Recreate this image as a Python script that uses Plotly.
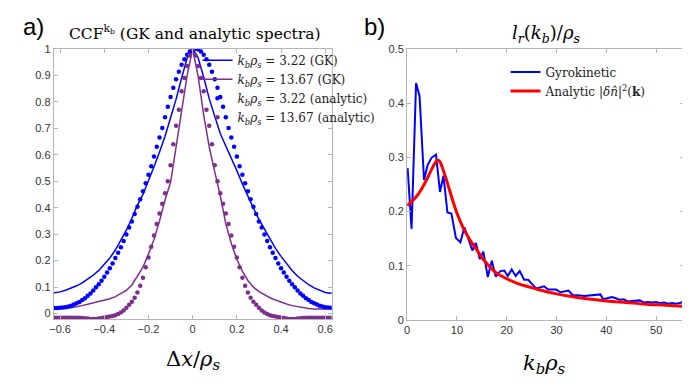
import numpy as np
import plotly.graph_objects as go

# ---- panel a) : CCF^{k_b}, GK lines vs analytic dots ----
# GK curves sampled every 0.025 in dx/rho_s
dx_gk = np.round(np.arange(-0.65, 0.6501, 0.025), 4)
ccf_gk_322 = [0.076, 0.078, 0.082, 0.088, 0.096, 0.105, 0.116, 0.129, 0.145, 0.163,
              0.185, 0.210, 0.240, 0.275, 0.315, 0.360, 0.410, 0.450, 0.500, 0.555,
              0.610, 0.670, 0.740, 0.810, 0.890, 0.965, 1.000,
              0.965, 0.893, 0.812, 0.745, 0.680, 0.633, 0.588, 0.540, 0.490, 0.443,
              0.398, 0.356, 0.318, 0.280, 0.246, 0.216, 0.188, 0.163, 0.141, 0.124,
              0.109, 0.097, 0.087, 0.080, 0.077, 0.076]
ccf_gk_1367 = [0.018, 0.018, 0.019, 0.020, 0.022, 0.025, 0.030, 0.035, 0.040, 0.045,
               0.050, 0.056, 0.064, 0.075, 0.088, 0.108, 0.140, 0.175, 0.225, 0.280,
               0.350, 0.430, 0.495, 0.631, 0.775, 0.900, 1.000,
               0.895, 0.750, 0.630, 0.535, 0.445, 0.340, 0.265, 0.205, 0.160, 0.125,
               0.100, 0.083, 0.070, 0.060, 0.051, 0.043, 0.036, 0.030, 0.026, 0.022,
               0.019, 0.017, 0.016, 0.017, 0.020, 0.022]

# analytic curves sampled every 0.0125 in dx/rho_s
dx_an = np.round(np.arange(-0.65, 0.6501, 0.0125), 4)
ccf_an_322 = [0.021, 0.021, 0.021, 0.021, 0.022, 0.023, 0.024, 0.027, 0.030, 0.034,
              0.039, 0.044, 0.051, 0.058, 0.067, 0.076, 0.087, 0.099, 0.111, 0.124,
              0.139, 0.155, 0.171, 0.189, 0.210, 0.230, 0.251, 0.274, 0.299, 0.325,
              0.348, 0.376, 0.404, 0.432, 0.462, 0.492, 0.524, 0.557, 0.593, 0.630,
              0.665, 0.701, 0.742, 0.781, 0.818, 0.853, 0.885, 0.914, 0.940, 0.961,
              0.978, 0.990, 0.998, 1.000,
              0.998, 0.990, 0.978, 0.961, 0.940, 0.914, 0.885, 0.853, 0.818, 0.781,
              0.742, 0.701, 0.665, 0.630, 0.593, 0.557, 0.524, 0.492, 0.462, 0.432,
              0.404, 0.376, 0.348, 0.325, 0.299, 0.274, 0.251, 0.230, 0.210, 0.189,
              0.171, 0.155, 0.139, 0.124, 0.111, 0.099, 0.087, 0.076, 0.067, 0.058,
              0.051, 0.044, 0.039, 0.034, 0.030, 0.027, 0.024, 0.023, 0.022, 0.021,
              0.021, 0.021, 0.021]
ccf_an_1367 = [-0.016, -0.016, -0.016, -0.016, -0.016, -0.016, -0.016, -0.016, -0.016, -0.016,
               -0.016, -0.016, -0.017, -0.018, -0.019, -0.020, -0.020, -0.020, -0.019, -0.017,
               -0.015, -0.013, -0.011, -0.009, -0.006, -0.002, 0.004, 0.012, 0.022, 0.033,
               0.045, 0.060, 0.080, 0.105, 0.135, 0.175, 0.212, 0.252, 0.295, 0.338,
               0.378, 0.415, 0.455, 0.500, 0.560, 0.640, 0.710, 0.770, 0.840, 0.890,
               0.935, 0.975, 1.000,
               0.975, 0.935, 0.890, 0.840, 0.770, 0.710, 0.640, 0.560, 0.500, 0.455,
               0.415, 0.378, 0.338, 0.295, 0.252, 0.212, 0.175, 0.135, 0.105, 0.080,
               0.060, 0.045, 0.033, 0.022, 0.012, 0.004, -0.002, -0.006, -0.009, -0.011,
               -0.013, -0.015, -0.017, -0.019, -0.020, -0.020, -0.020, -0.019, -0.018, -0.017,
               -0.016, -0.016, -0.016, -0.016, -0.016, -0.016, -0.016, -0.016, -0.016, -0.016,
               -0.016, -0.016]

# ---- panel b) : l_r(k_b)/rho_s ----
kb_gk = [0.1, 0.9, 1.8, 2.5, 3.4, 4.1, 4.9, 5.8, 6.6, 7.3, 8.1, 8.9, 9.8, 10.7, 11.5,
         12.4, 13.1, 13.8, 14.6, 15.3, 16.2, 17.0, 17.8, 18.7, 19.5, 20.2, 21.0, 21.8,
         22.6, 23.5, 24.3, 25.1, 25.9, 26.7, 27.5, 28.3, 29.1, 29.9, 30.8, 31.6, 32.4,
         33.2, 34.0, 34.8, 35.6, 36.4, 37.2, 38.0, 38.8, 39.4, 40.2, 41.1, 41.9, 42.7,
         43.5, 44.3, 45.1, 45.9, 46.7, 47.5, 48.4, 49.2, 50.0, 50.8, 51.6, 52.4, 53.2,
         54.0, 54.8, 55.5]
lr_gk = [0.280, 0.168, 0.437, 0.413, 0.258, 0.285, 0.299, 0.305, 0.236, 0.266, 0.198,
         0.196, 0.151, 0.143, 0.171, 0.147, 0.128, 0.142, 0.112, 0.126, 0.079, 0.109,
         0.080, 0.090, 0.091, 0.081, 0.093, 0.081, 0.090, 0.074, 0.074, 0.066, 0.058,
         0.060, 0.062, 0.056, 0.056, 0.056, 0.051, 0.053, 0.054, 0.046, 0.046, 0.045,
         0.044, 0.045, 0.045, 0.046, 0.047, 0.038, 0.040, 0.042, 0.040, 0.037, 0.038,
         0.034, 0.035, 0.035, 0.036, 0.032, 0.033, 0.032, 0.033, 0.031, 0.032, 0.030,
         0.031, 0.030, 0.031, 0.034]

kb_an = [0, 1, 2, 3, 4, 5, 6, 6.5, 7, 8, 9, 10, 11, 12, 13, 14, 15, 16, 17, 18, 20,
         22, 24, 26, 28, 30, 33, 36, 40, 44, 48, 52, 55.5]
lr_an = [0.211, 0.219, 0.229, 0.243, 0.260, 0.279, 0.294, 0.293, 0.283, 0.255, 0.225,
         0.197, 0.175, 0.157, 0.142, 0.129, 0.115, 0.104, 0.094, 0.086, 0.076, 0.068,
         0.062, 0.057, 0.052, 0.048, 0.043, 0.039, 0.035, 0.032, 0.029, 0.027, 0.025]

BLUE = "#0000ff"
PURPLE = "#7e2f8e"
RED = "#ff0000"
SERIF = "DejaVu Serif"
SANS = "Liberation Sans"
kb = "<i>k<sub>b</sub>ρ<sub>s</sub></i>"

fig = go.Figure()

fig.add_trace(go.Scatter(x=dx_gk, y=ccf_gk_322, mode="lines", line=dict(color=BLUE, width=1.5),
                         name=kb + " = 3.22 (GK)", legend="legend"))
fig.add_trace(go.Scatter(x=dx_gk, y=ccf_gk_1367, mode="lines", line=dict(color=PURPLE, width=1.5),
                         name=kb + " = 13.67 (GK)", legend="legend"))
fig.add_trace(go.Scatter(x=dx_an, y=ccf_an_322, mode="markers", marker=dict(color=BLUE, size=4.5),
                         name=kb + " = 3.22 (analytic)", legend="legend"))
fig.add_trace(go.Scatter(x=dx_an, y=ccf_an_1367, mode="markers", marker=dict(color=PURPLE, size=4.5),
                         name=kb + " = 13.67 (analytic)", legend="legend"))

fig.add_trace(go.Scatter(x=kb_gk, y=lr_gk, mode="lines", line=dict(color=BLUE, width=2),
                         name="Gyrokinetic", xaxis="x2", yaxis="y2", legend="legend2"))
fig.add_trace(go.Scatter(x=kb_an, y=lr_an, mode="lines", line=dict(color=RED, width=3, shape="spline"),
                         name="Analytic |<i>δn̂</i>|<sup>2</sup>(<b>k</b>)",
                         xaxis="x2", yaxis="y2", legend="legend2"))

axis_style = dict(showline=True, linecolor="#b5b5b5", linewidth=1, mirror="allticks",
                  ticks="inside", ticklen=4, tickcolor="#b5b5b5", showgrid=False,
                  zeroline=False, tickfont=dict(family=SANS, size=11, color="#333333"))

# page body keeps an 8px margin, so the figure is 682x374 inside the 690x382 window
fig.update_layout(
    width=682, height=374,
    margin=dict(l=0, r=0, t=0, b=0),
    paper_bgcolor="white", plot_bgcolor="white",
    xaxis=dict(domain=[0.0616, 0.4721], range=[-0.629, 0.629],
               tickvals=[-0.6, -0.4, -0.2, 0, 0.2, 0.4, 0.6], **axis_style),
    yaxis=dict(domain=[0.1578, 0.9037], range=[-0.02, 1],
               tickvals=[0, 0.1, 0.2, 0.3, 0.4, 0.5, 0.6, 0.7, 0.8, 0.9, 1], **axis_style),
    xaxis2=dict(domain=[0.5836, 0.9927], range=[0, 55.6], anchor="y2",
                tickvals=[0, 10, 20, 30, 40, 50], **axis_style),
    yaxis2=dict(domain=[0.155, 0.9037], range=[0, 0.5], anchor="x2",
                tickvals=[0, 0.1, 0.2, 0.3, 0.4, 0.5], **axis_style),
    legend=dict(x=0.274, y=0.912, xanchor="left", yanchor="top", bgcolor="rgba(0,0,0,0)",
                font=dict(family=SERIF, size=12, color="#222222"), tracegroupgap=0),
    legend2=dict(x=0.729, y=0.88, xanchor="left", yanchor="top", bgcolor="rgba(0,0,0,0)",
                 font=dict(family=SERIF, size=12, color="#222222")),
    showlegend=True,
)

annos = [
    dict(text="a)", x=0.032, y=0.966, font=dict(family=SANS, size=24, color="black")),
    dict(text="b)", x=0.535, y=0.966, font=dict(family=SANS, size=24, color="black")),
    dict(text="CCF<sup>k<sub>b</sub></sup> (GK and analytic spectra)", x=0.27, y=0.95,
         font=dict(family=SERIF, size=15.5, color="black")),
    dict(text="<i>l<sub>r</sub></i>(<i>k<sub>b</sub></i>)/<i>ρ<sub>s</sub></i>", x=0.789, y=0.944,
         font=dict(family=SERIF, size=18, color="black")),
    dict(text="Δ<i>x</i>/<i>ρ<sub>s</sub></i>", x=0.267, y=0.043,
         font=dict(family=SERIF, size=21, color="black")),
    dict(text="<i>k<sub>b</sub>ρ<sub>s</sub></i>", x=0.787, y=0.032,
         font=dict(family=SERIF, size=21, color="black")),
]
for a in annos:
    fig.add_annotation(xref="paper", yref="paper", showarrow=False, xanchor="center",
                       yanchor="middle", **a)

fig.write_html("out.html")
